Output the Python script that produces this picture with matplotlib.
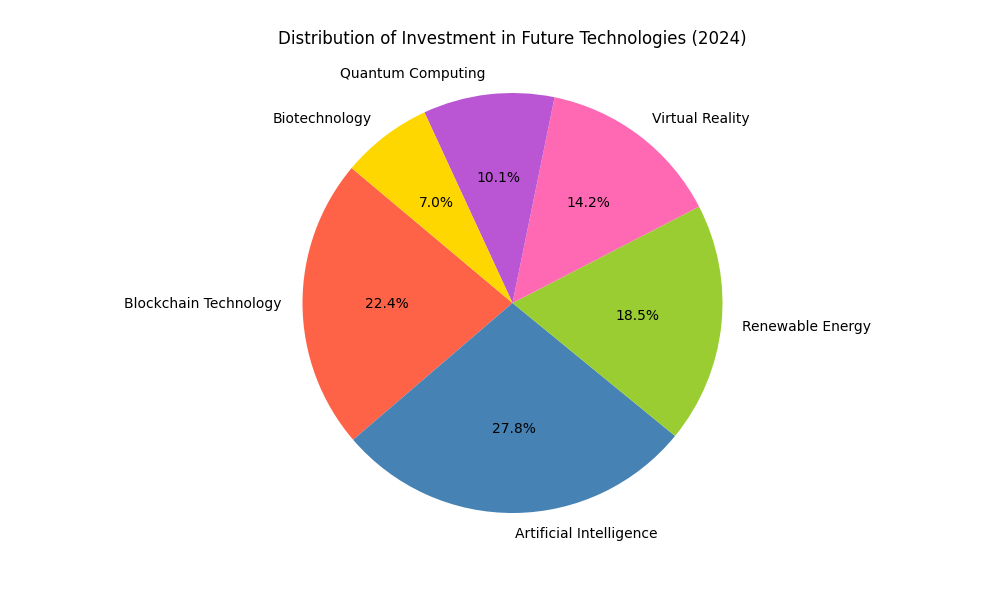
import matplotlib
matplotlib.use('Agg')
import matplotlib.pyplot as plt

# Investment share by technology area (2024)
technologies = ['Blockchain Technology', 'Artificial Intelligence', 'Renewable Energy',
                'Virtual Reality', 'Quantum Computing', 'Biotechnology']
shares = [22.4, 27.8, 18.5, 14.2, 10.1, 7.0]
colors = ['tomato', 'steelblue', 'yellowgreen', 'hotpink', 'mediumorchid', 'gold']

fig = plt.figure(figsize=(10, 6))
plt.pie(
    shares,
    labels=technologies,
    colors=colors,
    autopct='%1.1f%%',
    startangle=140,
)
plt.title('Distribution of Investment in Future Technologies (2024)', pad=20)
plt.axis('equal')
plt.savefig('out.png', dpi=100)
